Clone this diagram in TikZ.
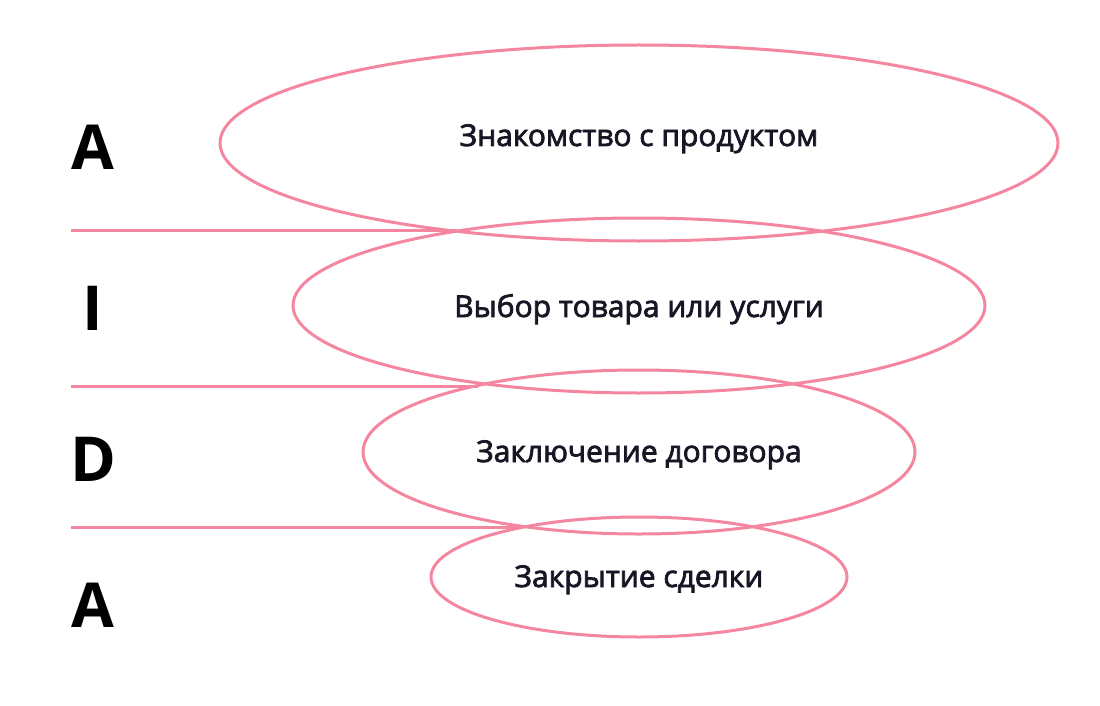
\documentclass[tikz,border=0pt]{standalone}
\usepackage{fontspec}
\setmainfont{Open Sans}
\newfontfamily\labelfont{Open Sans}[FakeBold=2.5]
\newfontfamily\letterfont{Open Sans}[BoldFont={Open Sans Bold}]
\usetikzlibrary{shapes.geometric}
\definecolor{pinkline}{RGB}{244,134,160}
\definecolor{txtcol}{RGB}{22,22,36}
\tikzset{
  stage/.style={ellipse, draw=pinkline, line width=3pt, inner sep=0pt},
  sep/.style={draw=pinkline, line width=3pt},
  label/.style={anchor=base, text=txtcol, font=\labelfont\fontsize{30}{34}\selectfont, inner sep=0pt},
  letter/.style={anchor=base, text=black, font=\letterfont\fontsize{62}{70}\selectfont\bfseries, inner sep=0pt}
}
\begin{document}
\begin{tikzpicture}[x=1pt,y=-1pt]
\useasboundingbox (0,0) rectangle (1100,706);
\node[stage, minimum width=838pt, minimum height=196pt] (e1) at (639,143) {};
\node[stage, minimum width=692pt, minimum height=175pt] (e2) at (639,305.5) {};
\node[stage, minimum width=552pt, minimum height=164pt] (e3) at (639,452) {};
\node[stage, minimum width=416pt, minimum height=120pt] (e4) at (639,577) {};
\node[label] (t1) at (639,146) {Знакомство с продуктом};
\node[label] (t2) at (639,317) {Выбор товара или услуги};
\node[label] (t3) at (639,462) {Заключение договора};
\node[label] (t4) at (639,587) {Закрытие сделки};
\node[letter] (l1) at (93,169) {A};
\node[letter] (l2) at (93,330) {I};
\node[letter] (l3) at (93,481) {D};
\node[letter] (l4) at (93,627) {A};
\coordinate (s1a) at (71,230); \coordinate (s1b) at (457,230);
\coordinate (s2a) at (71,386); \coordinate (s2b) at (478,386);
\coordinate (s3a) at (71,527); \coordinate (s3b) at (522,527);
\draw[sep] (s1a) -- (s1b);
\draw[sep] (s2a) -- (s2b);
\draw[sep] (s3a) -- (s3b);
\end{tikzpicture}
\end{document}
